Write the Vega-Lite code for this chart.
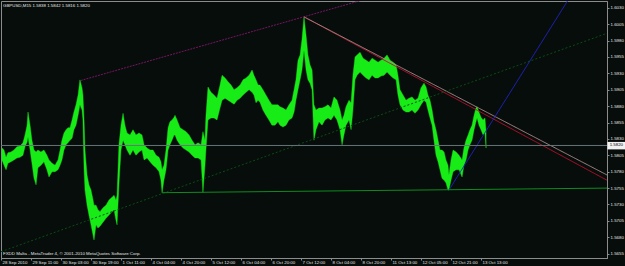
{
  "$schema": "https://vega.github.io/schema/vega-lite/v6.json",
  "autosize": {"type": "none"},
  "width": 606,
  "height": 257,
  "padding": {"left": 1, "top": 1, "right": 18, "bottom": 8},
  "background": "#060d0a",
  "config": {
    "view": {"stroke": "#8c8c8c", "strokeWidth": 1},
    "font": "Liberation Sans",
    "axis": {"grid": false, "labelFontSize": 4.4, "labelColor": "#e6e6e6", "labelFont": "Liberation Sans", "tickSize": 2, "tickColor": "#8c8c8c", "domainColor": "#8c8c8c", "labelOverlap": false, "labelBound": false, "labelFlush": false}
  },
  "title": {"text": "GBPUSD,M15  1.5838 1.5842 1.5816 1.5820", "anchor": "start", "frame": "group", "offset": -7, "dx": 2, "fontSize": 4.4, "fontWeight": "normal", "color": "#e6e6e6", "font": "Liberation Sans"},
  "datasets": {
    "series": [
      {"t":0.5,"hi":1.5816,"lo":1.5798},{"t":1.6,"hi":1.5813,"lo":1.5790},{"t":2.7,"hi":1.5802,"lo":1.5783},{"t":3.7,"hi":1.5809,"lo":1.5793},{"t":5.3,"hi":1.5810,"lo":1.5795},{"t":6.9,"hi":1.5813,"lo":1.5798},{"t":8.5,"hi":1.5818,"lo":1.5801},{"t":10.1,"hi":1.5819,"lo":1.5802},{"t":11.7,"hi":1.5824,"lo":1.5805},{"t":12.8,"hi":1.5836,"lo":1.5818},{"t":13.9,"hi":1.5851,"lo":1.5825},{"t":14.4,"hi":1.5871,"lo":1.5833},{"t":15.5,"hi":1.5851,"lo":1.5813},{"t":16.5,"hi":1.5828,"lo":1.5793},{"t":17.6,"hi":1.5813,"lo":1.5770},{"t":18.7,"hi":1.5810,"lo":1.5760},{"t":19.7,"hi":1.5813,"lo":1.5786},{"t":21.3,"hi":1.5810,"lo":1.5790},{"t":22.9,"hi":1.5813,"lo":1.5795},{"t":24.5,"hi":1.5805,"lo":1.5783},{"t":25.6,"hi":1.5798,"lo":1.5772},{"t":27.2,"hi":1.5793,"lo":1.5780},{"t":28.8,"hi":1.5790,"lo":1.5780},{"t":30.4,"hi":1.5798,"lo":1.5783},{"t":31.5,"hi":1.5813,"lo":1.5790},{"t":32.5,"hi":1.5828,"lo":1.5798},{"t":33.6,"hi":1.5839,"lo":1.5813},{"t":34.7,"hi":1.5844,"lo":1.5821},{"t":35.7,"hi":1.5847,"lo":1.5824},{"t":36.8,"hi":1.5847,"lo":1.5828},{"t":37.9,"hi":1.5859,"lo":1.5831},{"t":38.9,"hi":1.5871,"lo":1.5844},{"t":40.0,"hi":1.5882,"lo":1.5851},{"t":41.1,"hi":1.5897,"lo":1.5866},{"t":42.1,"hi":1.5920,"lo":1.5882},{"t":43.2,"hi":1.5908,"lo":1.5874},{"t":43.7,"hi":1.5897,"lo":1.5859},{"t":44.3,"hi":1.5859,"lo":1.5783},{"t":44.8,"hi":1.5813,"lo":1.5752},{"t":45.9,"hi":1.5775,"lo":1.5729},{"t":46.9,"hi":1.5760,"lo":1.5714},{"t":48.0,"hi":1.5752,"lo":1.5699},{"t":49.1,"hi":1.5737,"lo":1.5683},{"t":49.6,"hi":1.5729,"lo":1.5676},{"t":50.7,"hi":1.5729,"lo":1.5699},{"t":51.7,"hi":1.5722,"lo":1.5694},{"t":52.8,"hi":1.5719,"lo":1.5697},{"t":54.4,"hi":1.5725,"lo":1.5703},{"t":56.0,"hi":1.5729,"lo":1.5709},{"t":57.6,"hi":1.5737,"lo":1.5714},{"t":59.2,"hi":1.5741,"lo":1.5719},{"t":60.3,"hi":1.5744,"lo":1.5722},{"t":61.3,"hi":1.5737,"lo":1.5706},{"t":61.9,"hi":1.5744,"lo":1.5699},{"t":62.9,"hi":1.5821,"lo":1.5760},{"t":64.0,"hi":1.5851,"lo":1.5813},{"t":65.1,"hi":1.5869,"lo":1.5828},{"t":66.1,"hi":1.5851,"lo":1.5821},{"t":67.2,"hi":1.5839,"lo":1.5813},{"t":68.8,"hi":1.5836,"lo":1.5805},{"t":70.4,"hi":1.5844,"lo":1.5813},{"t":72.0,"hi":1.5836,"lo":1.5805},{"t":73.6,"hi":1.5839,"lo":1.5810},{"t":75.2,"hi":1.5836,"lo":1.5813},{"t":76.3,"hi":1.5821,"lo":1.5798},{"t":77.9,"hi":1.5816,"lo":1.5801},{"t":79.5,"hi":1.5813,"lo":1.5795},{"t":81.1,"hi":1.5813,"lo":1.5790},{"t":82.7,"hi":1.5805,"lo":1.5786},{"t":84.3,"hi":1.5802,"lo":1.5780},{"t":85.3,"hi":1.5795,"lo":1.5767},{"t":85.9,"hi":1.5783,"lo":1.5748},{"t":86.9,"hi":1.5790,"lo":1.5767},{"t":88.0,"hi":1.5813,"lo":1.5783},{"t":89.1,"hi":1.5847,"lo":1.5813},{"t":90.1,"hi":1.5856,"lo":1.5821},{"t":91.2,"hi":1.5859,"lo":1.5828},{"t":92.3,"hi":1.5863,"lo":1.5836},{"t":92.8,"hi":1.5866,"lo":1.5836},{"t":93.9,"hi":1.5859,"lo":1.5828},{"t":95.5,"hi":1.5847,"lo":1.5821},{"t":97.1,"hi":1.5844,"lo":1.5816},{"t":98.7,"hi":1.5841,"lo":1.5813},{"t":100.3,"hi":1.5836,"lo":1.5810},{"t":101.9,"hi":1.5828,"lo":1.5805},{"t":103.5,"hi":1.5821,"lo":1.5801},{"t":105.1,"hi":1.5824,"lo":1.5801},{"t":106.7,"hi":1.5821,"lo":1.5798},{"t":107.7,"hi":1.5841,"lo":1.5748},{"t":108.8,"hi":1.5828,"lo":1.5790},{"t":109.3,"hi":1.5866,"lo":1.5813},{"t":110.4,"hi":1.5909,"lo":1.5859},{"t":112.0,"hi":1.5901,"lo":1.5862},{"t":113.6,"hi":1.5897,"lo":1.5862},{"t":115.2,"hi":1.5892,"lo":1.5859},{"t":116.8,"hi":1.5912,"lo":1.5877},{"t":117.9,"hi":1.5927,"lo":1.5889},{"t":119.5,"hi":1.5923,"lo":1.5892},{"t":121.1,"hi":1.5917,"lo":1.5889},{"t":122.7,"hi":1.5912,"lo":1.5886},{"t":124.3,"hi":1.5905,"lo":1.5883},{"t":125.9,"hi":1.5908,"lo":1.5889},{"t":127.5,"hi":1.5912,"lo":1.5892},{"t":129.1,"hi":1.5920,"lo":1.5897},{"t":130.7,"hi":1.5923,"lo":1.5901},{"t":132.3,"hi":1.5927,"lo":1.5905},{"t":133.9,"hi":1.5935,"lo":1.5901},{"t":134.9,"hi":1.5927,"lo":1.5897},{"t":136.0,"hi":1.5920,"lo":1.5885},{"t":137.1,"hi":1.5912,"lo":1.5889},{"t":138.1,"hi":1.5912,"lo":1.5886},{"t":139.7,"hi":1.5905,"lo":1.5874},{"t":141.3,"hi":1.5897,"lo":1.5866},{"t":142.9,"hi":1.5889,"lo":1.5859},{"t":144.5,"hi":1.5882,"lo":1.5851},{"t":146.1,"hi":1.5882,"lo":1.5851},{"t":147.7,"hi":1.5882,"lo":1.5856},{"t":148.8,"hi":1.5879,"lo":1.5851},{"t":150.4,"hi":1.5877,"lo":1.5848},{"t":152.0,"hi":1.5874,"lo":1.5851},{"t":153.6,"hi":1.5882,"lo":1.5859},{"t":155.2,"hi":1.5889,"lo":1.5862},{"t":156.3,"hi":1.5905,"lo":1.5871},{"t":157.3,"hi":1.5920,"lo":1.5889},{"t":158.4,"hi":1.5950,"lo":1.5905},{"t":159.5,"hi":1.5958,"lo":1.5920},{"t":160.5,"hi":1.5981,"lo":1.5935},{"t":161.6,"hi":1.6016,"lo":1.5965},{"t":162.7,"hi":1.5988,"lo":1.5935},{"t":163.7,"hi":1.5958,"lo":1.5920},{"t":164.8,"hi":1.5943,"lo":1.5915},{"t":165.9,"hi":1.5935,"lo":1.5905},{"t":166.9,"hi":1.5882,"lo":1.5828},{"t":168.0,"hi":1.5874,"lo":1.5844},{"t":169.6,"hi":1.5877,"lo":1.5856},{"t":171.2,"hi":1.5877,"lo":1.5851},{"t":172.8,"hi":1.5879,"lo":1.5859},{"t":174.4,"hi":1.5882,"lo":1.5862},{"t":176.0,"hi":1.5877,"lo":1.5859},{"t":177.6,"hi":1.5894,"lo":1.5866},{"t":179.2,"hi":1.5889,"lo":1.5859},{"t":180.8,"hi":1.5874,"lo":1.5844},{"t":181.9,"hi":1.5859,"lo":1.5821},{"t":182.9,"hi":1.5866,"lo":1.5836},{"t":184.0,"hi":1.5879,"lo":1.5851},{"t":185.6,"hi":1.5889,"lo":1.5859},{"t":186.7,"hi":1.5885,"lo":1.5844},{"t":187.7,"hi":1.5927,"lo":1.5874},{"t":188.8,"hi":1.5955,"lo":1.5920},{"t":189.9,"hi":1.5958,"lo":1.5927},{"t":191.5,"hi":1.5962,"lo":1.5932},{"t":193.1,"hi":1.5953,"lo":1.5927},{"t":194.7,"hi":1.5950,"lo":1.5923},{"t":196.3,"hi":1.5947,"lo":1.5920},{"t":197.9,"hi":1.5953,"lo":1.5927},{"t":199.5,"hi":1.5950,"lo":1.5923},{"t":201.1,"hi":1.5947,"lo":1.5923},{"t":202.7,"hi":1.5950,"lo":1.5926},{"t":204.3,"hi":1.5953,"lo":1.5927},{"t":205.9,"hi":1.5958,"lo":1.5932},{"t":207.5,"hi":1.5950,"lo":1.5927},{"t":209.1,"hi":1.5947,"lo":1.5923},{"t":210.7,"hi":1.5943,"lo":1.5920},{"t":211.7,"hi":1.5927,"lo":1.5897},{"t":212.8,"hi":1.5905,"lo":1.5882},{"t":214.4,"hi":1.5897,"lo":1.5874},{"t":216.0,"hi":1.5889,"lo":1.5871},{"t":217.6,"hi":1.5892,"lo":1.5871},{"t":219.2,"hi":1.5894,"lo":1.5874},{"t":220.8,"hi":1.5889,"lo":1.5869},{"t":222.4,"hi":1.5892,"lo":1.5874},{"t":224.0,"hi":1.5908,"lo":1.5882},{"t":225.6,"hi":1.5915,"lo":1.5889},{"t":226.7,"hi":1.5909,"lo":1.5886},{"t":227.7,"hi":1.5897,"lo":1.5874},{"t":228.8,"hi":1.5889,"lo":1.5862},{"t":229.9,"hi":1.5874,"lo":1.5851},{"t":230.9,"hi":1.5856,"lo":1.5828},{"t":232.0,"hi":1.5844,"lo":1.5805},{"t":233.1,"hi":1.5828,"lo":1.5795},{"t":234.1,"hi":1.5813,"lo":1.5783},{"t":235.2,"hi":1.5813,"lo":1.5770},{"t":236.3,"hi":1.5810,"lo":1.5767},{"t":237.3,"hi":1.5798,"lo":1.5763},{"t":238.4,"hi":1.5790,"lo":1.5752},{"t":238.9,"hi":1.5775,"lo":1.5752},{"t":240.0,"hi":1.5798,"lo":1.5767},{"t":241.1,"hi":1.5813,"lo":1.5780},{"t":242.7,"hi":1.5810,"lo":1.5783},{"t":244.3,"hi":1.5805,"lo":1.5783},{"t":245.9,"hi":1.5798,"lo":1.5772},{"t":246.9,"hi":1.5816,"lo":1.5790},{"t":248.0,"hi":1.5828,"lo":1.5798},{"t":249.1,"hi":1.5836,"lo":1.5813},{"t":250.1,"hi":1.5844,"lo":1.5821},{"t":251.2,"hi":1.5851,"lo":1.5828},{"t":252.3,"hi":1.5866,"lo":1.5844},{"t":253.3,"hi":1.5877,"lo":1.5856},{"t":253.9,"hi":1.5879,"lo":1.5862},{"t":254.9,"hi":1.5871,"lo":1.5851},{"t":256.0,"hi":1.5863,"lo":1.5844},{"t":257.1,"hi":1.5859,"lo":1.5836},{"t":258.1,"hi":1.5862,"lo":1.5839},{"t":258.7,"hi":1.5842,"lo":1.5816}
    ],
    "lines": [
      {"line":"peaks","t":42.5,"p":1.5919},{"line":"peaks","t":212.8,"p":1.6058},
      {"line":"resistance","t":161.6,"p":1.6016},{"line":"resistance","t":323.2,"p":1.5767},
      {"line":"resistance2","t":161.6,"p":1.6016},{"line":"resistance2","t":323.2,"p":1.5775},
      {"line":"uptrend","t":238.9,"p":1.5752},{"line":"uptrend","t":305.8,"p":1.6057},
      {"line":"channel","t":0,"p":1.5658},{"line":"channel","t":323.2,"p":1.5991},
      {"line":"support","t":85.9,"p":1.5748},{"line":"support","t":323.2,"p":1.5755},
      {"line":"bid","t":0,"p":1.5820},{"line":"bid","t":323.2,"p":1.5820}
    ]
  },
  "layer": [
    {
      "data": {"name": "series"},
      "mark": {"type": "area", "color": "#17ec17", "stroke": "#17ec17", "strokeWidth": 0.4, "clip": true, "interpolate": "linear"},
      "encoding": {
        "x": {"field": "t", "type": "quantitative", "title": null, "scale": {"domain": [0, 323.2], "nice": false, "zero": false},
          "axis": {"values": [0,16,32,48,64,80,96,112,128,144,160,176,192,208,224,240,256], "tickCount": 100,
            "labelExpr": "['28 Sep 2010','29 Sep 11:00','30 Sep 03:00','30 Sep 19:00','1 Oct 11:00','4 Oct 04:00','4 Oct 20:00','5 Oct 12:00','6 Oct 04:00','6 Oct 20:00','7 Oct 12:00','8 Oct 04:00','8 Oct 20:00','11 Oct 13:00','12 Oct 05:00','12 Oct 21:00','13 Oct 13:00'][round(datum.value/16)]",
            "labelAlign": "left", "labelOffset": 1, "labelPadding": 0, "labelOverlap": false, "labelFlush": false, "labelBound": false}},
        "y": {"field": "hi", "type": "quantitative", "title": null, "scale": {"domain": [1.564844, 1.604022], "nice": false, "zero": false},
          "axis": {"orient": "right", "values": [1.5655,1.568,1.5705,1.573,1.5755,1.578,1.5805,1.583,1.5855,1.588,1.5905,1.593,1.5955,1.598,1.6005,1.603], "tickCount": 100,
            "format": ".4f", "labelPadding": 1, "labelOverlap": false, "labelFlush": false, "labelBound": false}},
        "y2": {"field": "lo"}
      }
    },
    {
      "data": {"name": "lines"},
      "mark": {"type": "line", "strokeWidth": 1, "clip": true},
      "encoding": {
        "x": {"field": "t", "type": "quantitative", "title": null},
        "y": {"field": "p", "type": "quantitative", "title": null},
        "detail": {"field": "line"},
        "color": {"field": "line", "type": "nominal", "legend": null,
          "scale": {"domain": ["peaks","resistance","resistance2","uptrend","channel","support","bid"],
                    "range": ["#7a1462","#b8102c","#a88a8a","#2323c8","#0c4a16","#109020","#69747a"]}},
        "strokeDash": {"field": "line", "type": "nominal", "legend": null,
          "scale": {"domain": ["peaks","resistance","resistance2","uptrend","channel","support","bid"],
                    "range": [[2,1],[1,0],[1,0],[1,0],[2,2],[1,0],[1,0]]}}
      }
    },
    {
      "data": {"values": [{"t1": 323.4, "t2": 333.5, "p1": 1.58254, "p2": 1.58140}]},
      "mark": {"type": "rect", "color": "#f2f2f2", "clip": false},
      "encoding": {
        "x": {"field": "t1", "type": "quantitative", "title": null},
        "x2": {"field": "t2"},
        "y": {"field": "p1", "type": "quantitative", "title": null},
        "y2": {"field": "p2"}
      }
    },
    {
      "data": {"values": [{"t": 324.6, "p": 1.5820, "label": "1.5820"}]},
      "mark": {"type": "text", "align": "left", "baseline": "middle", "fontSize": 4.4, "font": "Liberation Sans", "color": "#000000", "clip": false},
      "encoding": {
        "x": {"field": "t", "type": "quantitative", "title": null},
        "y": {"field": "p", "type": "quantitative", "title": null},
        "text": {"field": "label"}
      }
    },
    {
      "data": {"values": [{"t": 1.07, "p": 1.5655, "label": "FXDD Malta - MetaTrader 4, © 2001-2010 MetaQuotes Software Corp."}]},
      "mark": {"type": "text", "align": "left", "baseline": "middle", "fontSize": 4.4, "font": "Liberation Sans", "color": "#e6e6e6"},
      "encoding": {
        "x": {"field": "t", "type": "quantitative", "title": null},
        "y": {"field": "p", "type": "quantitative", "title": null},
        "text": {"field": "label"}
      }
    }
  ]
}
